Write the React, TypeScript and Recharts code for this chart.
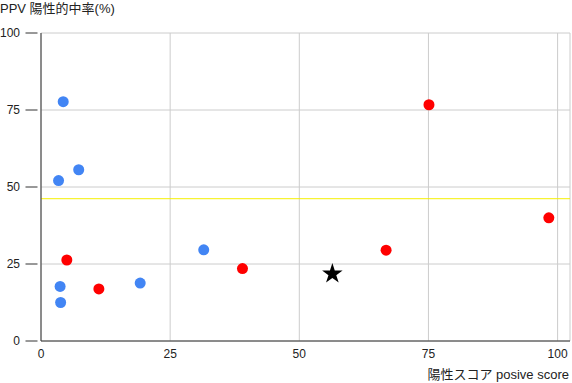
import {
  ScatterChart,
  Scatter,
  XAxis,
  YAxis,
  CartesianGrid,
  ReferenceLine,
  Symbols,
} from "recharts";

const blueX = [4.3, 7.3, 3.4, 3.7, 3.8, 19.2, 31.5];
const blueY = [77.7, 55.6, 52.1, 17.7, 12.5, 18.8, 29.6];
const redX = [5.0, 11.2, 39.0, 66.8, 75.1, 98.3];
const redY = [26.3, 16.9, 23.5, 29.5, 76.7, 40.0];
const starX = [56.4];
const starY = [21.8];
const xTicks = [0, 25, 50, 75, 100];
const yTicks = [0, 25, 50, 75, 100];
const threshold = 46.2;

const FONT = '"Liberation Sans", Arial, "Noto Sans CJK JP", sans-serif';

const toPoints = (xs: number[], ys: number[]) => xs.map((x, i) => ({ x, y: ys[i] }));

const blueData = toPoints(blueX, blueY);
const redData = toPoints(redX, redY);
const starData = toPoints(starX, starY);

// y tick: short dash with a small gap before the axis line
const YTick = (props: any) => {
  const { x, y, payload } = props;
  return (
    <g>
      <line x1={x - 15.5} x2={x - 3.5} y1={y} y2={y} stroke="#333" />
      <text x={x - 21} y={y} dy="0.355em" textAnchor="end" fontSize={12} fill="#222" fontFamily={FONT}>
        {payload.value}
      </text>
    </g>
  );
};

const dot = (color: string) => (p: any) => <circle cx={p.cx} cy={p.cy} r={5.5} fill={color} />;

const star = (p: any) => <Symbols type="star" cx={p.cx} cy={p.cy} size={130} fill="#000" />;

export default function App() {
  return (
    <div style={{ position: "absolute", left: 0, top: 0, width: 572, height: 383, fontFamily: FONT }}>
      <ScatterChart width={572} height={383} margin={{ top: 33, right: 2, left: 0, bottom: 12 }}>
        <CartesianGrid stroke="#ccc" />
        <XAxis
          type="number"
          dataKey="x"
          domain={[0, 102.4]}
          ticks={xTicks}
          tickLine={false}
          axisLine={{ stroke: "#333" }}
          tick={{ fontSize: 12, fill: "#222", fontFamily: FONT }}
          height={30}
        />
        <YAxis
          type="number"
          dataKey="y"
          domain={[0, 100]}
          ticks={yTicks}
          width={41}
          tickSize={0}
          tickMargin={0}
          tickLine={false}
          axisLine={{ stroke: "#333" }}
          tick={<YTick />}
        />
        <ReferenceLine y={threshold} stroke="#f5f000" />
        <Scatter data={blueData} shape={dot("#4285f4")} isAnimationActive={false} />
        <Scatter data={redData} shape={dot("#ff0000")} isAnimationActive={false} />
        <Scatter data={starData} shape={star} isAnimationActive={false} />
      </ScatterChart>
      <div style={{ position: "absolute", left: 0, top: 1, fontSize: 13, lineHeight: "15px", color: "#222", whiteSpace: "nowrap" }}>
        PPV 陽性的中率(%)
      </div>
      <div style={{ position: "absolute", right: 3, top: 367, fontSize: 13, lineHeight: "15px", color: "#222", whiteSpace: "nowrap" }}>
        陽性スコア posive score
      </div>
    </div>
  );
}
